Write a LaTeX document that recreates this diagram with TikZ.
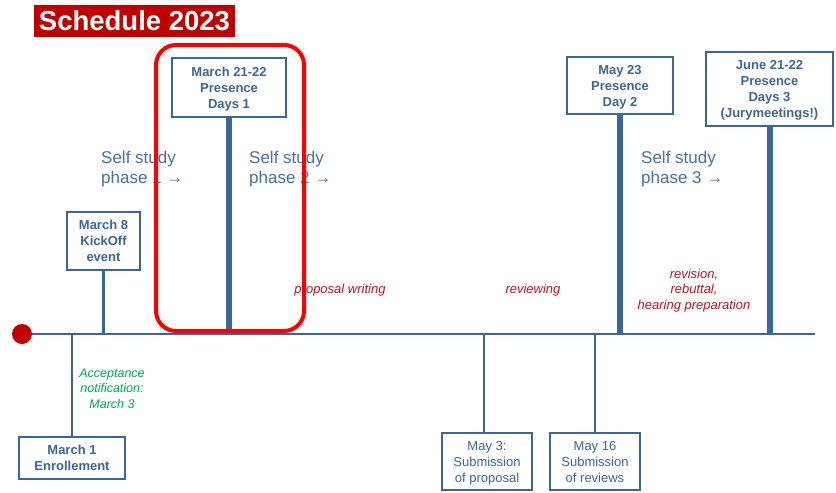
\documentclass[tikz,border=0pt]{standalone}
\usepackage{fontspec}
\setmainfont{Liberation Sans}
\definecolor{tlblue}{RGB}{58,102,153}
\definecolor{phaseblue}{RGB}{68,113,168}
\definecolor{taskred}{RGB}{200,16,30}
\definecolor{accgreen}{RGB}{0,170,80}
\definecolor{titlered}{RGB}{192,0,0}
\definecolor{hlred}{RGB}{255,0,0}
\definecolor{dotred}{RGB}{192,0,0}
\begin{document}
\begin{tikzpicture}[x=1pt,y=-1pt,
  box/.style={draw=tlblue, line width=2.5pt, fill=white, text=tlblue, align=center, inner sep=0pt,
    text depth=-3pt,
    font=\fontsize{13}{16}\selectfont\bfseries},
  plainbox/.style={box, font=\fontsize{13}{16}\selectfont},
  thinstem/.style={draw=tlblue, line width=2.5pt},
  thickstem/.style={draw=tlblue, line width=6pt},
  phasetext/.style={text=phaseblue, align=left, inner sep=0pt, anchor=north west,
    font=\fontsize{17}{20}\selectfont},
  tasktext/.style={text=taskred, align=center, inner sep=0pt, font=\fontsize{13}{15.5}\selectfont\itshape},
  acctext/.style={text=accgreen, align=center, inner sep=0pt, font=\fontsize{12.5}{15.5}\selectfont\itshape},
  ]
\useasboundingbox (0,0) rectangle (836,493);

% title
\node[fill=titlered, text=white, font=\fontsize{27.5}{30}\selectfont\bfseries,
  minimum width=201pt, minimum height=32pt, inner sep=0pt] (title) at (134.5,21) {Schedule 2023};

% timeline
\coordinate (tlstart) at (22,334);
\coordinate (tlend) at (815,334);
\draw[thinstem] (tlstart) -- (tlend);

% boxes
\node[box, minimum width=73pt, minimum height=58pt] (m8) at (103.5,241) {March 8\\KickOff\\event};
\node[box, minimum width=106pt, minimum height=42pt] (m1) at (72,458) {March 1\\Enrollement};
\node[box, minimum width=114pt, minimum height=59pt] (m21) at (229,87.5) {March 21-22\\Presence\\Days 1};
\node[box, minimum width=106pt, minimum height=57pt] (may23) at (620,85.5) {May 23\\Presence\\Day 2};
\node[box, minimum width=127pt, minimum height=74pt] (jun) at (769.5,89) {June 21-22\\Presence\\Days 3\\(Jurymeetings!)};
\node[plainbox, minimum width=90pt, minimum height=57pt] (may3) at (487,461.5) {May 3:\\Submission\\of proposal};
\node[plainbox, minimum width=90pt, minimum height=57pt] (may16) at (595,461.5) {May 16\\Submission\\of reviews};

% stems
\draw[thinstem] (m8.south) -- (m8.south |- tlstart);
\draw[thinstem] (m1.north) -- (m1.north |- tlstart);
\draw[thinstem] ([xshift=-3pt]may3.north) -- ([xshift=-3pt]may3.north |- tlstart);
\draw[thinstem] (may16.north) -- (may16.north |- tlstart);
\draw[thickstem] (m21.south) -- (m21.south |- tlstart);
\draw[thickstem] (may23.south) -- (may23.south |- tlstart);
\draw[thickstem] (jun.south) -- (jun.south |- tlstart);

% phase texts
\node[phasetext] (ph1) at (101,151) {Self study\\phase 1 →};
\node[phasetext] (ph2) at (249,151) {Self study\\phase 2 →};
\node[phasetext] (ph3) at (641,151) {Self study\\phase 3 →};

% task texts
\node[tasktext] (writing) at (340,290.5) {proposal writing};
\node[tasktext] (reviewing) at (533,290.5) {reviewing};
\node[tasktext] (revision) at (694,290.5) {revision,\\rebuttal,\\hearing preparation};

% acceptance
\node[acctext] (acc) at (112,388.5) {Acceptance\\notification:\\March 3};

% highlight
\draw[draw=hlred, line width=4pt, rounded corners=20pt] (156,45) rectangle (304,331);

% start dot
\node[circle, fill=dotred, minimum size=20pt, inner sep=0pt] (dot) at (tlstart) {};
\end{tikzpicture}
\end{document}
